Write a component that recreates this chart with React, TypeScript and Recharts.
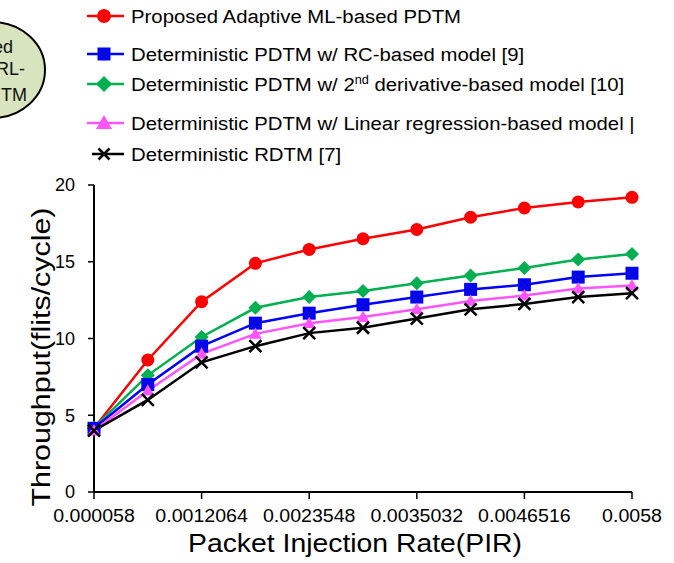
import React from 'react';
import { LineChart, Line, XAxis, YAxis, Legend, Label } from 'recharts';

// packet injection rate categories (only every other one is labelled)
const pirLabels = [
    '0.000058', '0.000632', '0.0012064', '0.001781', '0.0023548', '0.002929',
    '0.0035032', '0.004077', '0.0046516', '0.005226', '0.0058'
];
const xTicks = ['0.000058', '0.0012064', '0.0023548', '0.0035032', '0.0046516', '0.0058'];
const yTicks = [0, 5, 10, 15, 20];

const proposedMl = [4.15, 8.6, 12.4, 14.9, 15.8, 16.5, 17.1, 17.9, 18.5, 18.9, 19.2];
const rcModel = [4.15, 7.0, 9.5, 11.0, 11.65, 12.2, 12.7, 13.2, 13.5, 14.0, 14.25];
const secondDerivModel = [4.2, 7.6, 10.1, 12.0, 12.7, 13.1, 13.6, 14.1, 14.6, 15.15, 15.5];
const linearRegModel = [4.0, 6.6, 9.0, 10.3, 11.0, 11.4, 11.9, 12.45, 12.8, 13.25, 13.45];
const rdtm = [4.0, 6.0, 8.45, 9.5, 10.35, 10.7, 11.3, 11.9, 12.25, 12.7, 12.95];

const data = pirLabels.map((pir, i) => ({
    pir,
    proposed: proposedMl[i],
    rc: rcModel[i],
    deriv: secondDerivModel[i],
    linear: linearRegModel[i],
    rdtm: rdtm[i]
}));

const FONT = '"Liberation Sans", Arial, sans-serif';

type Shape = 'circle' | 'square' | 'diamond' | 'triangle' | 'cross';

const Marker = ({ shape, cx, cy, color, s }: { shape: Shape; cx: number; cy: number; color: string; s: number }) => {
    if (shape === 'circle') return <circle cx={cx} cy={cy} r={s} fill={color} />;
    if (shape === 'square')
        return (
            <g>
                <rect x={cx - s} y={cy - s} width={s * 2} height={s * 2} fill={color} />
                <path d={`M${cx - s + 2},${cy - s + 2}L${cx + s - 2},${cy + s - 2}M${cx + s - 2},${cy - s + 2}L${cx - s + 2},${cy + s - 2}`} stroke="#1a1a8c" strokeWidth={1} />
            </g>
        );
    if (shape === 'diamond')
        return <path d={`M${cx},${cy - s}L${cx + s},${cy}L${cx},${cy + s}L${cx - s},${cy}Z`} fill={color} />;
    if (shape === 'triangle')
        return <path d={`M${cx},${cy - s}L${cx + s},${cy + s * 0.75}L${cx - s},${cy + s * 0.75}Z`} fill={color} />;
    return (
        <path d={`M${cx - s},${cy - s}L${cx + s},${cy + s}M${cx + s},${cy - s}L${cx - s},${cy + s}`} stroke={color} strokeWidth={2.5} fill="none" />
    );
};

const series = [
    { key: 'proposed', name: 'Proposed Adaptive ML-based PDTM', color: '#ff0000', shape: 'circle' as Shape, size: 6.5, legendSize: 7, order: 0 },
    { key: 'deriv', name: 'Deterministic PDTM w/ 2nd derivative-based model [10]', color: '#00b050', shape: 'diamond' as Shape, size: 7, legendSize: 8, order: 2 },
    { key: 'rc', name: 'Deterministic PDTM w/ RC-based model [9]', color: '#0000ff', shape: 'square' as Shape, size: 6.5, legendSize: 6.5, order: 1 },
    { key: 'linear', name: 'Deterministic PDTM w/ Linear regression-based model |', color: '#ff55ff', shape: 'triangle' as Shape, size: 6.5, legendSize: 8, order: 3 },
    { key: 'rdtm', name: 'Deterministic RDTM [7]', color: '#000000', shape: 'cross' as Shape, size: 6, legendSize: 5.5, order: 4 }
];

const legendRowY = [16, 54, 84, 123, 154];

const legendText = (name: string) => {
    const i = name.indexOf('2nd');
    if (i < 0) return name;
    return (
        <>
            {name.slice(0, i + 1)}
            <tspan dy={-7} fontSize={12}>nd</tspan>
            <tspan dy={7}>{name.slice(i + 3)}</tspan>
        </>
    );
};

const renderLegend = (props: any) => {
    const rows = (props.payload || [])
        .map((p: any) => series.find((s) => s.key === p.dataKey))
        .filter(Boolean)
        .sort((a: any, b: any) => a.order - b.order);
    return (
        <svg width={674} height={170} style={{ display: 'block' }}>
            {rows.map((s: any, i: number) => {
                const y = legendRowY[i];
                return (
                    <g key={s.key}>
                        <line x1={s.shape === 'cross' ? 92 : 87} x2={124} y1={y} y2={y} stroke={s.color} strokeWidth={2.5} />
                        <Marker shape={s.shape} cx={104} cy={y} color={s.color} s={s.legendSize} />
                        <g transform={`translate(131,${y})`}>
                            <text transform="scale(1.06,1)" dy="0.35em" fontSize={19.2} fontFamily={FONT} fill="#000">
                                {legendText(s.name)}
                            </text>
                        </g>
                    </g>
                );
            })}
        </svg>
    );
};

const XTick = (props: any) => {
    const { x, y, payload } = props;
    return (
        <g transform={`translate(${x},${y})`}>
            <text transform="scale(1.12,1)" textAnchor="middle" dy="0.71em" fontSize={17.5} fontFamily={FONT} fill="#000">
                {payload.value}
            </text>
        </g>
    );
};

const YTick = (props: any) => {
    const { x, y, payload } = props;
    return (
        <text x={x} y={y} textAnchor="end" dy="0.35em" fontSize={18} fontFamily={FONT} fill="#000">
            {payload.value}
        </text>
    );
};

export default function App() {
    return (
        <div style={{ position: 'absolute', left: 0, top: 0, width: 674, height: 563, background: '#fff' }}>
            <LineChart width={674} height={563} data={data} margin={{ top: 185, right: 42, bottom: 0, left: 34 }}>
                <XAxis
                    dataKey="pir"
                    type="category"
                    ticks={xTicks}
                    interval={0}
                    height={71}
                    tickSize={7}
                    tickMargin={11}
                    axisLine={{ stroke: '#000', strokeWidth: 2 }}
                    tickLine={{ stroke: '#000', strokeWidth: 1.5 }}
                    tick={<XTick />}
                >
                    <Label
                        content={() => (
                            <text x={355} y={552} textAnchor="middle" fontSize={25} fontFamily={FONT} fill="#000" textLength={334} lengthAdjust="spacingAndGlyphs">
                                Packet Injection Rate(PIR)
                            </text>
                        )}
                    />
                </XAxis>
                <YAxis
                    domain={[0, 20]}
                    ticks={yTicks}
                    width={60}
                    tickSize={6}
                    tickMargin={13}
                    axisLine={{ stroke: '#000', strokeWidth: 2 }}
                    tickLine={{ stroke: '#000', strokeWidth: 1.5 }}
                    tick={<YTick />}
                >
                    <Label
                        content={() => (
                            <text transform="translate(41,357) rotate(-90)" textAnchor="middle" dy="0.35em" fontSize={26} fontFamily={FONT} fill="#000" textLength={299} lengthAdjust="spacingAndGlyphs">
                                Throughput(flits/cycle)
                            </text>
                        )}
                    />
                </YAxis>
                <Legend layout="vertical" align="center" verticalAlign="middle" wrapperStyle={{ left: 0, top: 0, width: 674, height: 170 }} content={renderLegend} />
                {series.map((s) => (
                    <Line
                        key={s.key}
                        dataKey={s.key}
                        name={s.name}
                        stroke={s.color}
                        strokeWidth={2.5}
                        isAnimationActive={false}
                        activeDot={false}
                        dot={(p: any) => <Marker key={`${s.key}-${p.index}`} shape={s.shape} cx={p.cx} cy={p.cy} color={s.color} s={s.size} />}
                    />
                ))}
            </LineChart>
            <svg width={120} height={125} style={{ position: 'absolute', left: 0, top: 0 }}>
                <ellipse cx={-8} cy={70} rx={53} ry={48} fill="#d7e4bd" stroke="#000" strokeWidth={2} />
                <text x={13} y={53} textAnchor="end" fontSize={18} fontFamily={FONT} fill="#111">ed</text>
                <text x={25} y={75} textAnchor="end" fontSize={18} fontFamily={FONT} fill="#111">RL-</text>
                <text x={27} y={101} textAnchor="end" fontSize={18} fontFamily={FONT} fill="#111">TM</text>
            </svg>
        </div>
    );
}
